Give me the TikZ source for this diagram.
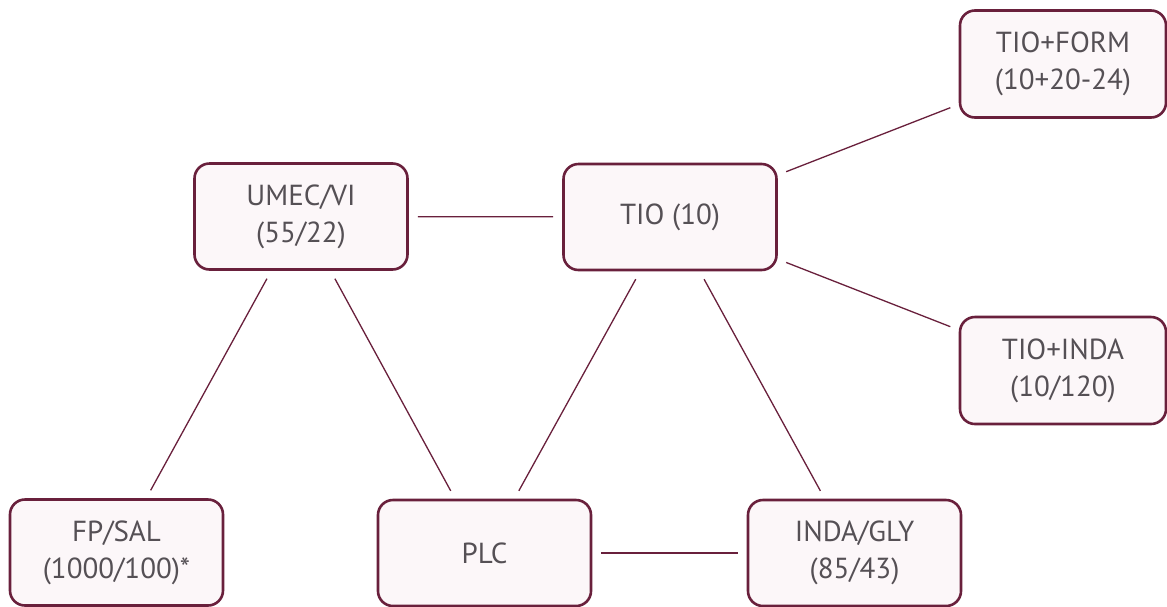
\documentclass[tikz,border=0pt]{standalone}
\usepackage{fontspec}
\setmainfont{PT Sans}
\definecolor{maroon}{RGB}{105,32,60}
\definecolor{txt}{RGB}{85,80,85}
\definecolor{boxfill}{RGB}{252,247,249}
\begin{document}
\begin{tikzpicture}[x=1pt,y=-1pt,
  box/.style={draw=maroon, line width=2.6pt, rounded corners=15pt, fill=boxfill,
    minimum width=213pt, minimum height=106pt, align=center, text=txt,
    font=\fontsize{29}{37}\selectfont, inner sep=0pt},
  narrow/.style={minimum width=206pt, minimum height=107pt},
  link/.style={draw=maroon, line width=1.3pt, shorten >=9pt, shorten <=9pt}]
\useasboundingbox[fill=white] (0,0) rectangle (1167,606);
\node[box] (umec) at (301,216.5) {UMEC/VI\\(55/22)};
\node[box] (tio) at (670,217) {TIO (10)};
\node[box,narrow] (form) at (1063,64) {TIO+FORM\\(10+20-24)};
\node[box,narrow] (inda) at (1063,370.5) {TIO+INDA\\(10/120)};
\node[box] (fpsal) at (116.5,552.5) {FP/SAL\\(1000/100)*};
\node[box] (plc) at (484.5,553) {PLC};
\node[box] (gly) at (854.5,553) {INDA/GLY\\(85/43)};
\draw[link] (umec) -- (tio);
\draw[link] (tio) -- (form);
\draw[link] (tio) -- (inda);
\draw[link] (umec) -- (fpsal);
\draw[link] (umec) -- (plc);
\draw[link] (tio) -- (plc);
\draw[link] (tio) -- (gly);
\draw[link] (plc) -- (gly);
\end{tikzpicture}
\end{document}
